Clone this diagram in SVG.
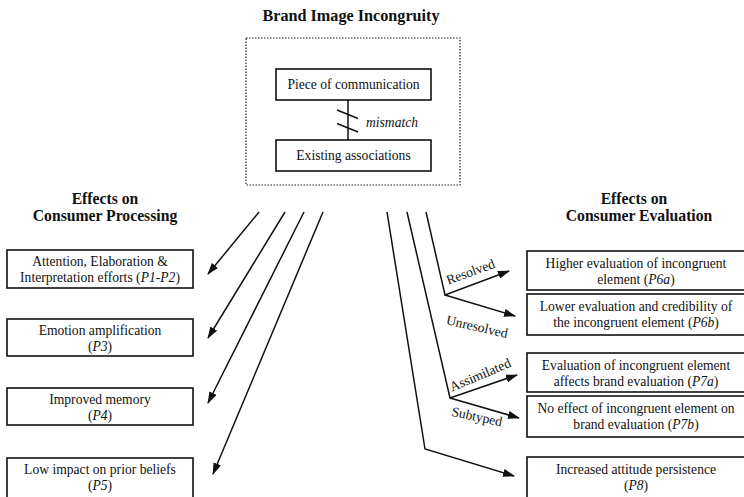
<svg xmlns="http://www.w3.org/2000/svg" width="744" height="497" viewBox="0 0 744 497">
<style>
text{font-family:"Liberation Serif","Times New Roman",serif;fill:#111}
.t{font-size:13.6px;text-anchor:middle}
.h{font-size:15.7px;font-weight:bold;text-anchor:middle}
.ti{font-size:16.2px;font-weight:bold;text-anchor:middle}
.i{font-style:italic}
.box{fill:#fff;stroke:#111;stroke-width:1.6}
.ln{fill:none;stroke:#111;stroke-width:1.5}
.lbl{font-size:13.6px;text-anchor:middle}
</style>
<defs>
<marker id="ah" viewBox="0 0 12 8" refX="11" refY="4" markerWidth="12" markerHeight="8" markerUnits="userSpaceOnUse" orient="auto"><path d="M0,0 L12,4 L0,8 z" fill="#111"/></marker>
</defs>
<rect width="744" height="497" fill="#fff"/>

<g id="title">
<text class="ti" x="351" y="21">Brand Image Incongruity</text>
</g>

<g id="incongruity">
<rect x="246" y="38" width="214" height="147" fill="none" stroke="#222" stroke-width="1.2" stroke-dasharray="1.5 1.5"/>
<g id="piece">
<rect class="box" x="276" y="69" width="155" height="31"/>
<text class="t" x="353.5" y="89">Piece of communication</text>
</g>
<g id="existing">
<rect class="box" x="276" y="140" width="155" height="31"/>
<text class="t" x="353.5" y="160">Existing associations</text>
</g>
<g id="mismatch">
<line class="ln" x1="348" y1="100" x2="348" y2="140"/>
<line class="ln" x1="337" y1="110" x2="358" y2="118.5"/>
<line class="ln" x1="337" y1="123.5" x2="358" y2="132"/>
<text class="lbl i" x="392" y="127">mismatch</text>
</g>
</g>

<g id="heading-processing">
<text class="h" x="105" y="204">Effects on</text>
<text class="h" x="105" y="221">Consumer Processing</text>
</g>
<g id="heading-evaluation">
<text class="h" x="634" y="204">Effects on</text>
<text class="h" x="639" y="221">Consumer Evaluation</text>
</g>

<g id="p1p2">
<rect class="box" x="7" y="250" width="186" height="38"/>
<text class="t" x="100" y="266">Attention, Elaboration &amp;</text>
<text class="t" x="100" y="282">Interpretation efforts (<tspan class="i">P1</tspan>-<tspan class="i">P2</tspan>)</text>
</g>
<g id="p3">
<rect class="box" x="7" y="319" width="186" height="37"/>
<text class="t" x="100" y="335">Emotion amplification</text>
<text class="t" x="100" y="351">(<tspan class="i">P3</tspan>)</text>
</g>
<g id="p4">
<rect class="box" x="7" y="388" width="186" height="37"/>
<text class="t" x="100" y="404">Improved memory</text>
<text class="t" x="100" y="420">(<tspan class="i">P4</tspan>)</text>
</g>
<g id="p5">
<rect class="box" x="7" y="458" width="186" height="45"/>
<text class="t" x="100" y="474">Low impact on prior beliefs</text>
<text class="t" x="100" y="490">(<tspan class="i">P5</tspan>)</text>
</g>

<g id="p6a">
<rect class="box" x="527" y="251" width="230" height="39"/>
<text class="t" x="636" y="268">Higher evaluation of incongruent</text>
<text class="t" x="636" y="284">element (<tspan class="i">P6a</tspan>)</text>
</g>
<g id="p6b">
<rect class="box" x="527" y="294" width="230" height="41"/>
<text class="t" x="636" y="311">Lower evaluation and credibility of</text>
<text class="t" x="636" y="327">the incongruent element (<tspan class="i">P6b</tspan>)</text>
</g>
<g id="p7a">
<rect class="box" x="527" y="353" width="230" height="39"/>
<text class="t" x="636" y="370">Evaluation of incongruent element</text>
<text class="t" x="636" y="386">affects brand evaluation (<tspan class="i">P7a</tspan>)</text>
</g>
<g id="p7b">
<rect class="box" x="527" y="396" width="230" height="41"/>
<text class="t" x="636" y="413">No effect of incongruent element on</text>
<text class="t" x="636" y="429">brand evaluation (<tspan class="i">P7b</tspan>)</text>
</g>
<g id="p8">
<rect class="box" x="527" y="457" width="230" height="50"/>
<text class="t" x="636" y="474">Increased attitude persistence</text>
<text class="t" x="636" y="490">(<tspan class="i">P8</tspan>)</text>
</g>

<g id="connectors">
<line class="ln" x1="259" y1="212" x2="208" y2="274" marker-end="url(#ah)"/>
<line class="ln" x1="285" y1="212" x2="208" y2="338" marker-end="url(#ah)"/>
<line class="ln" x1="304" y1="212" x2="208" y2="403" marker-end="url(#ah)"/>
<line class="ln" x1="323" y1="212" x2="213" y2="474" marker-end="url(#ah)"/>
<polyline class="ln" points="387,212 425,449 514,476" marker-end="url(#ah)"/>
<polyline class="ln" points="407,212 450,398 517,375" marker-end="url(#ah)"/>
<line class="ln" x1="450" y1="398" x2="519" y2="418" marker-end="url(#ah)"/>
<polyline class="ln" points="426,212 445,295 509,271" marker-end="url(#ah)"/>
<line class="ln" x1="445" y1="295" x2="515" y2="316" marker-end="url(#ah)"/>
<text class="lbl" transform="translate(472,276) rotate(-20)">Resolved</text>
<text class="lbl" transform="translate(476,331) rotate(13)">Unresolved</text>
<text class="lbl" transform="translate(482,379) rotate(-23)">Assimilated</text>
<text class="lbl" transform="translate(476,421) rotate(12)">Subtyped</text>
</g>
</svg>
